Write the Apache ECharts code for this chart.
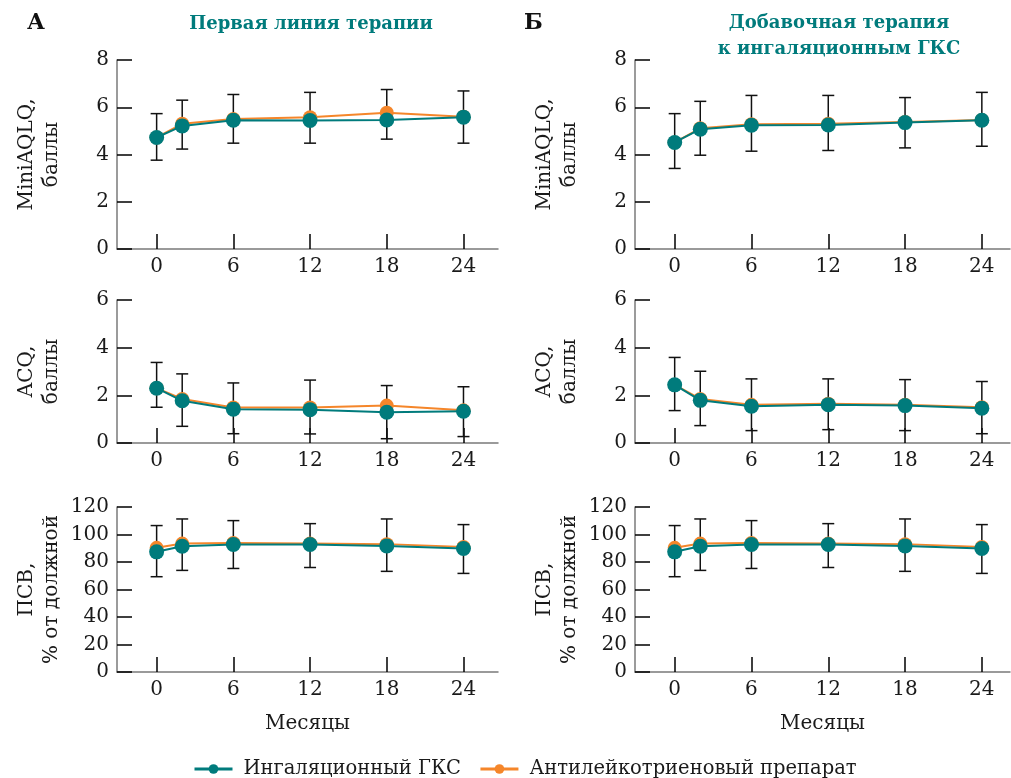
<!DOCTYPE html>
<html>
<head>
<meta charset="utf-8">
<script src="https://cdn.jsdelivr.net/npm/echarts@6/dist/echarts.min.js"></script>
<style>
  html, body { margin: 0; padding: 0; background: #fff; }
  #chart { width: 1011px; height: 778px; }
</style>
</head>
<body>
<div id="chart"></div>
<script>
// months of observation
const months = [0, 2, 6, 12, 18, 24];
const monthTicks = [0, 6, 12, 18, 24];

// A - first line therapy
const aqlqA_ics  = [4.72, 5.21, 5.45, 5.44, 5.46, 5.58];
const aqlqA_ltra = [4.72, 5.30, 5.50, 5.58, 5.77, 5.60];
const aqlqA_low  = [3.76, 4.23, 4.48, 4.48, 4.65, 4.48];
const aqlqA_high = [5.73, 6.30, 6.54, 6.63, 6.75, 6.69];

const acqA_ics  = [2.30, 1.77, 1.42, 1.40, 1.29, 1.33];
const acqA_ltra = [2.30, 1.85, 1.49, 1.49, 1.57, 1.37];
const acqA_low  = [1.50, 0.70, 0.39, 0.38, 0.18, 0.27];
const acqA_high = [3.38, 2.90, 2.52, 2.64, 2.41, 2.36];

const pefA_ics  = [87.4, 91.5, 92.7, 92.7, 91.7, 89.8];
const pefA_ltra = [90.3, 93.4, 93.9, 93.4, 93.0, 91.0];
const pefA_low  = [69.3, 73.9, 75.3, 76.0, 73.2, 71.7];
const pefA_high = [106.5, 111.3, 110.1, 107.9, 111.3, 107.2];

// Б - add-on to inhaled steroids
const aqlqB_ics  = [4.51, 5.07, 5.24, 5.25, 5.35, 5.45];
const aqlqB_ltra = [4.51, 5.11, 5.28, 5.30, 5.38, 5.46];
const aqlqB_low  = [3.41, 3.97, 4.14, 4.17, 4.28, 4.35];
const aqlqB_high = [5.73, 6.25, 6.50, 6.50, 6.41, 6.63];

const acqB_ics  = [2.44, 1.79, 1.54, 1.61, 1.57, 1.46];
const acqB_ltra = [2.44, 1.85, 1.60, 1.65, 1.61, 1.50];
const acqB_low  = [1.36, 0.73, 0.52, 0.56, 0.52, 0.39];
const acqB_high = [3.59, 3.01, 2.69, 2.69, 2.66, 2.58];

const pefB_ics  = [87.4, 91.5, 92.7, 92.7, 91.7, 89.8];
const pefB_ltra = [90.3, 93.4, 93.9, 93.4, 93.0, 91.0];
const pefB_low  = [69.3, 73.9, 75.3, 76.0, 73.2, 71.7];
const pefB_high = [106.5, 111.3, 110.1, 107.9, 111.3, 107.2];

const seriesNames = ['Ингаляционный ГКС', 'Антилейкотриеновый препарат'];

const TEAL = '#007b7c';
const ORANGE = '#f5862a';
const FONT = 'DejaVu Serif';

// panels: [ics, ltra, low, high, yName, yMax, yInterval]
const panels = [
  [aqlqA_ics, aqlqA_ltra, aqlqA_low, aqlqA_high, 'MiniAQLQ,\nбаллы', 8, 2],
  [acqA_ics, acqA_ltra, acqA_low, acqA_high, 'ACQ,\nбаллы', 6, 2],
  [pefA_ics, pefA_ltra, pefA_low, pefA_high, 'ПСВ,\n% от должной', 120, 20],
  [aqlqB_ics, aqlqB_ltra, aqlqB_low, aqlqB_high, 'MiniAQLQ,\nбаллы', 8, 2],
  [acqB_ics, acqB_ltra, acqB_low, acqB_high, 'ACQ,\nбаллы', 6, 2],
  [pefB_ics, pefB_ltra, pefB_low, pefB_high, 'ПСВ,\n% от должной', 120, 20]
];

const rowsTop = [60, 300, 507];
const rowsH = [189, 143, 165];
const colsLeft = [117, 635];
const colsW = [381, 375];
const colsMax = [26.7, 26.2];

const grids = [], xAxes = [], yAxes = [], series = [];

function errBar(params, api) {
  const x = api.value(0);
  const lo = api.coord([x, api.value(1)]);
  const hi = api.coord([x, api.value(2)]);
  const w = 6;
  const st = { stroke: '#111', lineWidth: 1.5 };
  return {
    type: 'group',
    children: [
      { type: 'line', shape: { x1: lo[0], y1: lo[1], x2: hi[0], y2: hi[1] }, style: st },
      { type: 'line', shape: { x1: hi[0] - w, y1: hi[1], x2: hi[0] + w, y2: hi[1] }, style: st },
      { type: 'line', shape: { x1: lo[0] - w, y1: lo[1], x2: lo[0] + w, y2: lo[1] }, style: st }
    ]
  };
}

panels.forEach((p, i) => {
  const col = Math.floor(i / 3), row = i % 3;
  grids.push({ left: colsLeft[col], top: rowsTop[row], width: colsW[col], height: rowsH[row] });
  xAxes.push({
    type: 'value', gridIndex: i, min: -3.1, max: colsMax[col],
    splitLine: { show: false },
    axisLine: { onZero: false, lineStyle: { color: '#7a7a7a', width: 1.5 } },
    axisTick: { inside: true, length: 15, customValues: monthTicks, lineStyle: { color: '#000', width: 1.5 } },
    axisLabel: { customValues: monthTicks, color: '#1a1a1a', fontFamily: FONT, fontSize: 20, margin: 8 },
    name: row === 2 ? 'Месяцы' : '',
    nameLocation: 'middle', nameGap: 42,
    nameTextStyle: { color: '#1a1a1a', fontFamily: FONT, fontSize: 20 }
  });
  yAxes.push({
    type: 'value', gridIndex: i, min: 0, max: p[5], interval: p[6],
    splitLine: { show: false },
    axisLine: { show: true, onZero: false, lineStyle: { color: '#7a7a7a', width: 1.5 } },
    axisTick: { show: true, inside: true, length: 15, lineStyle: { color: '#000', width: 1.5 } },
    axisLabel: { color: '#1a1a1a', fontFamily: FONT, fontSize: 20, margin: 8 },
    name: p[4], nameLocation: 'middle', nameRotate: 90, nameGap: 53,
    nameTextStyle: { color: '#1a1a1a', fontFamily: FONT, fontSize: 20, lineHeight: 25 }
  });
  series.push({
    type: 'custom', xAxisIndex: i, yAxisIndex: i, z: 1, silent: true,
    renderItem: errBar,
    encode: { x: 0, y: [1, 2] },
    data: months.map((m, k) => [m, p[2][k], p[3][k]])
  });
  series.push({
    type: 'line', name: seriesNames[1], xAxisIndex: i, yAxisIndex: i, z: 2,
    symbol: 'circle', symbolSize: 14, color: ORANGE,
    lineStyle: { width: 2, color: ORANGE }, itemStyle: { color: ORANGE },
    data: months.map((m, k) => [m, p[1][k]])
  });
  series.push({
    type: 'line', name: seriesNames[0], xAxisIndex: i, yAxisIndex: i, z: 3,
    symbol: 'circle', symbolSize: 15, color: TEAL,
    lineStyle: { width: 2, color: TEAL }, itemStyle: { color: TEAL },
    data: months.map((m, k) => [m, p[0][k]])
  });
});

const chart = echarts.init(document.getElementById('chart'));
chart.setOption({
  backgroundColor: '#fff',
  animation: false,
  title: [
    { text: 'А', left: 22, top: 7, textStyle: { fontFamily: FONT, fontSize: 22, fontWeight: 'bold', color: '#111' } },
    { text: 'Первая линия терапии', left: 306, top: 10, textAlign: 'center',
      textStyle: { fontFamily: FONT, fontSize: 18, fontWeight: 'bold', color: TEAL } },
    { text: 'Б', left: 519, top: 7, textStyle: { fontFamily: FONT, fontSize: 22, fontWeight: 'bold', color: '#111' } },
    { text: 'Добавочная терапия\nк ингаляционным ГКС', left: 834, top: 5, textAlign: 'center',
      textStyle: { fontFamily: FONT, fontSize: 18, fontWeight: 'bold', color: TEAL, lineHeight: 26 } }
  ],
  legend: {
    data: seriesNames, left: 188, top: 754,
    itemWidth: 38, itemHeight: 12, itemGap: 18,
    lineStyle: { width: 3 },
    textStyle: { fontFamily: FONT, fontSize: 19.5, color: '#1a1a1a', padding: [0, 0, 0, 6] }
  },
  grid: grids,
  xAxis: xAxes,
  yAxis: yAxes,
  series: series
});
</script>
</body>
</html>
